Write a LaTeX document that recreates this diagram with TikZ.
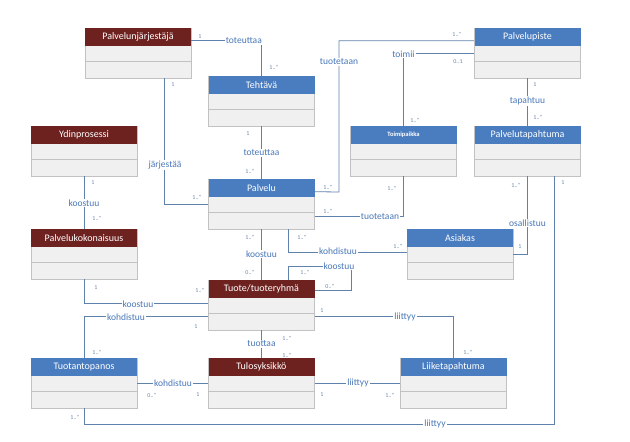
\documentclass[tikz,border=0pt]{standalone}
\usepackage{fontspec}
\setmainfont{Carlito}
\usetikzlibrary{calc}
\definecolor{hblue}{HTML}{4A7CC0}
\definecolor{hred}{HTML}{6E2220}
\definecolor{cfill}{HTML}{F0F0F0}
\definecolor{cline}{HTML}{C2C2C2}
\definecolor{conn}{HTML}{5F82AC}
\definecolor{lbl}{HTML}{4A78B8}
\definecolor{mult}{HTML}{6A86A8}
\tikzset{
  clsbox/.style={draw=cline, fill=cfill, minimum width=106pt, minimum height=50pt, inner sep=0pt, line width=0.6pt},
  clshead/.style={anchor=north, minimum width=106pt, minimum height=18pt, inner sep=0pt, text=white, font=\fontsize{10}{11}\selectfont},
  clsdiv/.style={draw=cline, line width=0.6pt},
  assoc/.style={draw=conn, line width=0.8pt},
  albl/.style={fill=white, inner sep=1pt, text=lbl, font=\fontsize{9.5}{10}\selectfont},
  mlt/.style={inner sep=0pt, text=mult, font=\fontsize{6}{7}\selectfont}
}
\newcommand\umlcls[5]{%
  \node[clsbox] (#1) at (#2,#3+25) {};
  \node[clshead, fill=#4] (#1-h) at (#1.north) {#5};
  \draw[clsdiv] ($(#1.north west)+(0,34)$) -- ($(#1.north east)+(0,34)$);
}
\begin{document}
\begin{tikzpicture}[x=1pt,y=-1pt]
\useasboundingbox (0,0) rectangle (630,442);
% classes
\umlcls{pj}{138}{28}{hred}{Palvelunjärjestäjä}
\umlcls{teh}{261.5}{76}{hblue}{Tehtävä}
\umlcls{pp}{527.5}{28}{hblue}{Palvelupiste}
\umlcls{yd}{84}{126}{hred}{Ydinprosessi}
\umlcls{tp}{403.5}{126}{hblue}{\fontsize{6.5}{7}\selectfont\bfseries Toimipaikka}
\umlcls{pt}{527.5}{126}{hblue}{Palvelutapahtuma}
\umlcls{pa}{261.5}{179}{hblue}{Palvelu}
\umlcls{pk}{84}{229}{hred}{Palvelukokonaisuus}
\umlcls{as}{460}{229}{hblue}{Asiakas}
\umlcls{tu}{261.5}{280}{hred}{Tuote/tuoteryhmä}
\umlcls{tpn}{84}{358}{hblue}{Tuotantopanos}
\umlcls{ty}{261.5}{358}{hred}{Tulosyksikkö}
\umlcls{lt}{453.5}{358}{hblue}{Liiketapahtuma}
% helper coordinates
\coordinate (k4) at (339,192);
\coordinate (k11) at (351,266);
\coordinate (k19) at (84,424);
% c1 Palvelunjarjestaja - Tehtava
\draw[assoc] ($(pj.north east)+(0,13)$) -| (teh.north);
\node[albl, anchor=east] at (263,41) {toteuttaa};
\node[mlt] at (200,37) {1};
\node[mlt] at (274,67) {1..*};
% c2 Tehtava - Palvelu
\draw[assoc] (teh.south) -- (pa.north);
\node[albl] at (261.5,153) {toteuttaa};
\node[mlt] at (248,134) {1};
\node[mlt] at (250,171) {1..*};
% c3 Palvelunjarjestaja - Palvelu
\draw[assoc] ($(pj.south)+(26,0)$) |- (pa.west);
\node[albl] at (165,165) {järjestää};
\node[mlt] at (173,85) {1};
\node[mlt] at (197,197) {1..*};
% c4 Palvelupiste - Palvelu
\draw[assoc] ($(pp.north west)+(0,13)$) -| (k4) -- ($(pa.north east)+(0,13)$);
\node[albl] at (339,62) {tuotetaan};
\node[mlt] at (457,34) {1..*};
\node[mlt] at (328,187) {1..*};
% c5 Palvelupiste - Toimipaikka
\draw[assoc] ($(pp.north west)+(0,26)$) -| (tp.north);
\node[albl] at (403.5,54) {toimii};
\node[mlt] at (458,62) {0..1};
\node[mlt] at (415,120) {1..*};
% c6 Palvelupiste - Palvelutapahtuma
\draw[assoc] (pp.south) -- (pt.north);
\node[albl] at (527.5,101) {tapahtuu};
\node[mlt] at (535,85) {1};
\node[mlt] at (538,117) {1..*};
% c7 Toimipaikka - Palvelu
\draw[assoc] (tp.south) |- ($(pa.north east)+(0,38)$);
\node[albl] at (380,217) {tuotetaan};
\node[mlt] at (392,188) {1..*};
\node[mlt] at (328,211) {1..*};
% c8 Palvelutapahtuma - Asiakas
\draw[assoc] (pt.south) |- ($(as.north east)+(0,26)$);
\node[albl] at (527.5,223) {osallistuu};
\node[mlt] at (516,185) {1..*};
\node[mlt] at (520,247) {1};
% c9 Palvelu - Asiakas
\draw[assoc] ($(pa.south)+(26.5,0)$) |- ($(as.north west)+(0,24)$);
\node[albl] at (338,251) {kohdistuu};
\node[mlt] at (302,237) {1..*};
\node[mlt] at (398,246) {1..*};
% c10 Palvelu - Tuote
\draw[assoc] (pa.south) -- (tu.north);
\node[albl] at (261.5,254) {koostuu};
\node[mlt] at (250,237) {1..*};
\node[mlt] at (250,272) {0..*};
% c11 Tuote self
\draw[assoc] ($(tu.north)+(26.5,0)$) |- (k11) |- ($(tu.north east)+(0,11)$);
\node[albl] at (339,266) {koostuu};
\node[mlt] at (305,272) {1..*};
\node[mlt] at (330,286) {0..*};
% c12 Ydinprosessi - Palvelukokonaisuus
\draw[assoc] (yd.south) -- (pk.north);
\node[albl] at (84,203) {koostuu};
\node[mlt] at (93,183) {1};
\node[mlt] at (97,218) {1..*};
% c13 Palvelukokonaisuus - Tuote
\draw[assoc] (pk.south) |- ($(tu.north west)+(0,24)$);
\node[albl] at (138,304) {koostuu};
\node[mlt] at (96,288) {1};
\node[mlt] at (200,290) {1..*};
% c14 Tuotantopanos - Tuote
\draw[assoc] (tpn.north) |- ($(tu.north west)+(0,37)$);
\node[albl] at (126,317) {kohdistuu};
\node[mlt] at (97,352) {1..*};
\node[mlt] at (196,327) {1};
% c15 Tuote - Tulosyksikko
\draw[assoc] (tu.south) -- (ty.north);
\node[albl] at (261.5,344) {tuottaa};
\node[mlt] at (287,338) {1..*};
\node[mlt] at (287,355) {1..*};
% c16 Tuotantopanos - Tulosyksikko
\draw[assoc] (tpn.east) -- (ty.west);
\node[albl] at (173,383) {kohdistuu};
\node[mlt] at (152,395) {0..*};
\node[mlt] at (198,395) {1};
% c17 Tuote - Liiketapahtuma
\draw[assoc] ($(tu.north east)+(0,37)$) -| (lt.north);
\node[albl] at (405,317) {liittyy};
\node[mlt] at (322,311) {1};
\node[mlt] at (468,352) {1..*};
% c18 Tulosyksikko - Liiketapahtuma
\draw[assoc] (ty.east) -- (lt.west);
\node[albl] at (358,383) {liittyy};
\node[mlt] at (322,395) {1};
\node[mlt] at (390,395) {1..*};
% c19 Tuotantopanos - Palvelutapahtuma
\draw[assoc] (tpn.south) -- (k19) -| ($(pt.south)+(27,0)$);
\node[albl] at (435,424) {liittyy};
\node[mlt] at (75,417) {1..*};
\node[mlt] at (563,183) {1};
\end{tikzpicture}
\end{document}
